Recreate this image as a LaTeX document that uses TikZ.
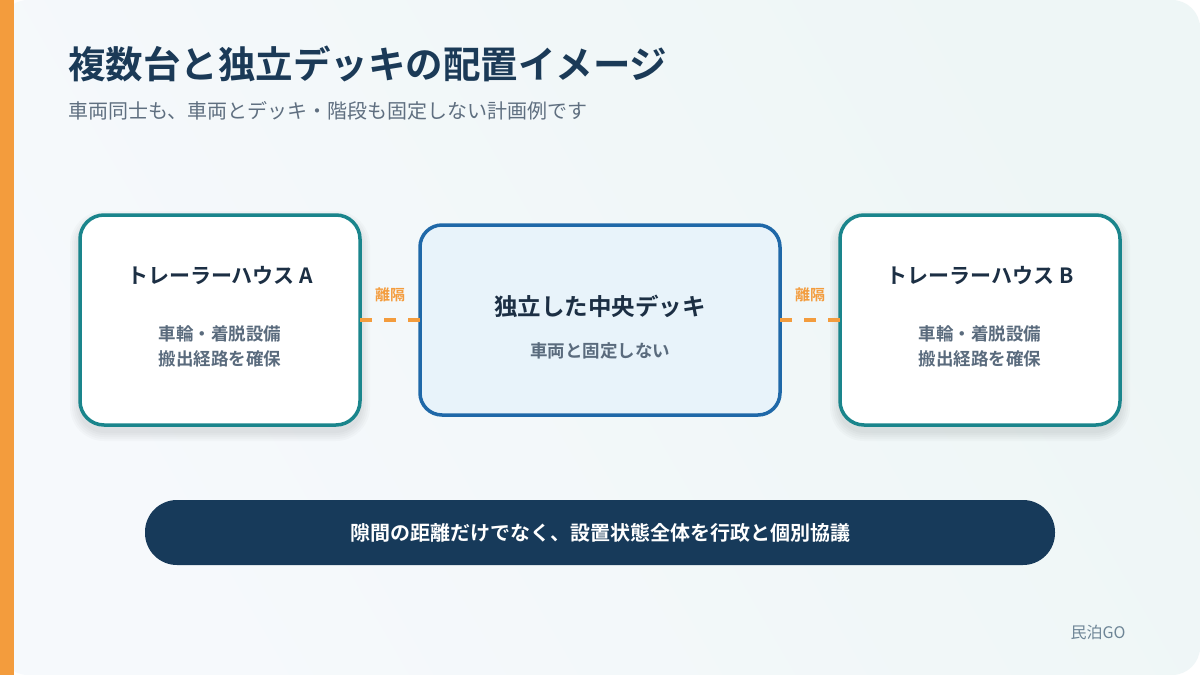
\documentclass[tikz,border=0pt]{standalone}
\usepackage{fontspec}
\setmainfont{Noto Sans CJK JP}[BoldFont={Noto Sans CJK JP Bold}]
\definecolor{navy}{HTML}{1B3A57}
\definecolor{subgray}{HTML}{5F6F80}
\definecolor{teal}{HTML}{1A858C}
\definecolor{deckblue}{HTML}{1F68A8}
\definecolor{deckfill}{HTML}{E8F3FA}
\definecolor{orng}{HTML}{F39C3D}
\definecolor{pill}{HTML}{173A5A}
\definecolor{boxtitle}{HTML}{1C2F44}
\definecolor{boxsub}{HTML}{5A6B7D}
\definecolor{bgA}{HTML}{F6F9FC}
\definecolor{bgB}{HTML}{EEF6F6}
\definecolor{brand}{HTML}{6E8596}
\tikzset{
  trailer/.style={draw=teal, line width=3.5pt, fill=white, rounded corners=24pt},
  softshadow/.style={fill=black, fill opacity=0.018},
  deck/.style={draw=deckblue, line width=3.5pt, fill=deckfill, rounded corners=22pt},
  gap/.style={draw=orng, line width=4pt, dash pattern=on 12pt off 12pt},
  gaplabel/.style={text=orng, font=\bfseries\fontsize{15}{18}\selectfont},
  btitle/.style={text=boxtitle, font=\bfseries\fontsize{21}{25}\selectfont},
  bsub/.style={text=boxsub, font=\bfseries\fontsize{17.5}{25}\selectfont, align=center},
}
\newcommand{\softshadowbox}[4]{%
  \foreach \s in {2,4,6,8,10}{%
    \fill[softshadow, rounded corners=24pt+\s pt] (#1-\s,#2-\s+6) rectangle (#3+\s,#4+\s+6);}%
}
\begin{document}
\begin{tikzpicture}[x=1pt,y=-1pt]
\useasboundingbox (0,0) rectangle (1200,675);
\fill[white] (0,0) rectangle (1200,675);
\shade[left color=bgA, right color=bgB, shading angle=120, rounded corners=28pt] (0,0) rectangle (1200,675);
\fill[orng] (0,0) rectangle (14,675);

\node[anchor=base west, text=navy, font=\bfseries\fontsize{37.5}{44}\selectfont, inner sep=0pt] (title) at (68,78) {複数台と独立デッキの配置イメージ};
\node[anchor=base west, text=subgray, font=\fontsize{20}{24}\selectfont, inner sep=0pt] (subtitle) at (68,118) {車両同士も、車両とデッキ・階段も固定しない計画例です};

% boxes
\softshadowbox{80}{215}{360}{425}
\softshadowbox{840}{215}{1120}{425}
\path[trailer] (80,215) rectangle (360,425);
\path[deck] (420,225) rectangle (780,415);
\path[trailer] (840,215) rectangle (1120,425);
\coordinate (Ar) at (360,320);
\coordinate (Cl) at (420,320);
\coordinate (Cr) at (780,320);
\coordinate (Bl) at (840,320);

\node[btitle] (At) at (220,276) {トレーラーハウス A};
\node[bsub] (As) at (220,346) {車輪・着脱設備\\搬出経路を確保};
\node[btitle, font=\bfseries\fontsize{23.5}{28}\selectfont] (Ct) at (600,306) {独立した中央デッキ};
\node[bsub] (Cs) at (600,351) {車両と固定しない};
\node[btitle] (Bt) at (980,276) {トレーラーハウス B};
\node[bsub] (Bs) at (980,346) {車輪・着脱設備\\搬出経路を確保};

\draw[gap] (Ar) -- (Cl);
\draw[gap] (Cr) -- (Bl);
\node[gaplabel] (g1) at (390,295) {離隔};
\node[gaplabel] (g2) at (810,295) {離隔};

\fill[pill, rounded corners=32pt] (145,500) rectangle (1055,565);
\node[text=white, font=\bfseries\fontsize{20}{24}\selectfont] (note) at (600,533) {隙間の距離だけでなく、設置状態全体を行政と個別協議};

\node[text=brand, font=\fontsize{16}{20}\selectfont] (brand) at (1098,632) {民泊GO};
\end{tikzpicture}
\end{document}
